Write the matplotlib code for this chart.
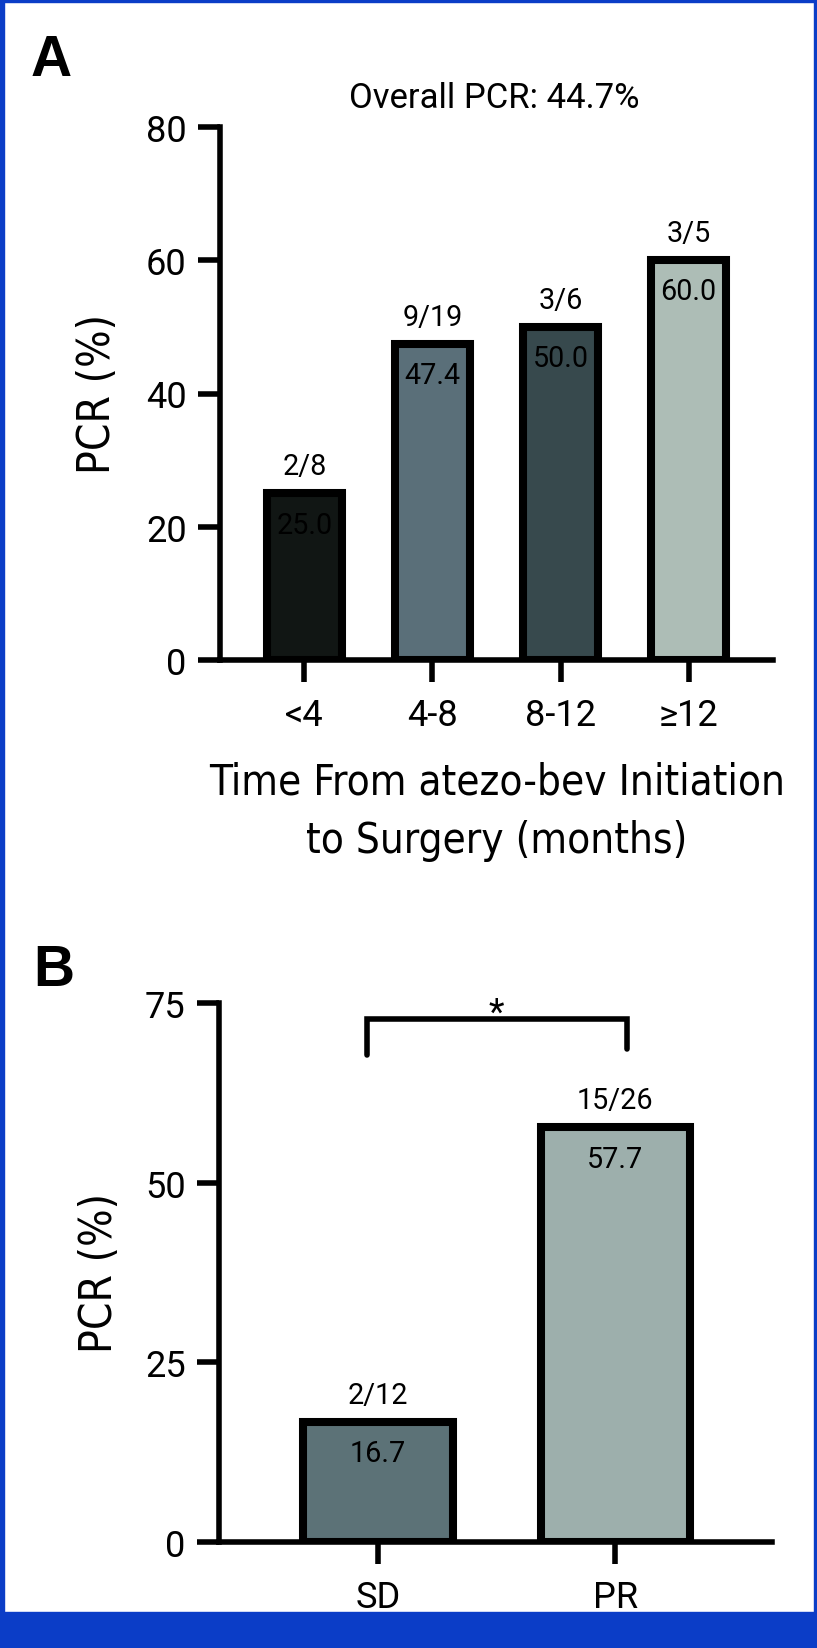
import os
import matplotlib
matplotlib.use('Agg')
import matplotlib.pyplot as plt
import matplotlib.font_manager as fm
from matplotlib.patches import Rectangle
from matplotlib.lines import Line2D

# ---------------- data ----------------
a_categories = ['<4', '4-8', '8-12', '≥12']
a_values = [25.0, 47.4, 50.0, 60.0]
a_counts = ['2/8', '9/19', '3/6', '3/5']
a_colors = ['#111614', '#5A6F79', '#37494D', '#ADBDB6']
a_yticks = [0, 20, 40, 60, 80]
a_title = 'Overall PCR: 44.7%'
a_xlabel_lines = ['Time From atezo-bev Initiation', 'to Surgery (months)']

b_categories = ['SD', 'PR']
b_values = [16.7, 57.7]
b_counts = ['2/12', '15/26']
b_colors = ['#5C7277', '#9DAFAC']
b_yticks = [0, 25, 50, 75]
b_sig_label = '*'

ylabel = 'PCR (%)'

# ---------------- fonts ----------------
REG = ['Roboto', 'Liberation Sans', 'DejaVu Sans']
BOLD = ['Liberation Sans', 'DejaVu Sans']


def find_condensed():
    prefs = ['liberationsansnarrow-regular', 'dejavusanscondensed.',
             'robotocondensed-regular', 'opensans_condensed-regular',
             'opensanscondensed-regular', 'notosans-condensed.',
             'notosanscondensed-regular']
    files = [f.fname for f in fm.fontManager.ttflist]
    for p in prefs:
        for fn in files:
            if os.path.basename(fn).lower().startswith(p):
                return fn
    return None


_cond = find_condensed()
if _cond:
    fm.fontManager.addfont(_cond)
    COND = [fm.FontProperties(fname=_cond).get_name(), 'DejaVu Sans']
    COND_STRETCH = 'condensed' if 'condensed' in _cond.lower() else 'normal'
else:
    COND = ['Liberation Sans', 'DejaVu Sans']
    COND_STRETCH = 'normal'

# ---------------- style ----------------
W, H, DPI = 817, 1649, 100
BLUE = '#0B3DC7'
plt.rcParams['font.family'] = REG

fig = plt.figure(figsize=(W / DPI, H / DPI), dpi=DPI)
renderer = fig.canvas.get_renderer()


def fx(x):
    return x / W


def fy(y):
    return 1 - y / H


def fit_size(s, family, target_w, stretch='normal', start=30):
    t = fig.text(0, 0, s, fontsize=start, family=family, fontstretch=stretch)
    w = t.get_window_extent(renderer).width
    t.remove()
    return start * target_w / w


TICK_FS = fit_size('8-12', REG, 71)
VAL_FS = fit_size('25.0', REG, 56)
TITLE_FS = fit_size(a_title, REG, 290)
XLAB_FS = fit_size(a_xlabel_lines[0], COND, 575, COND_STRETCH)
YLAB_FS = fit_size(ylabel, COND, 160, COND_STRETCH)


def style_axes(ax, tick_pad):
    for s in ('top', 'right'):
        ax.spines[s].set_visible(False)
    for s in ('left', 'bottom'):
        ax.spines[s].set_linewidth(4)
    ax.tick_params(axis='both', direction='out', length=16, width=4,
                   labelsize=TICK_FS, color='black')
    ax.tick_params(axis='x', pad=tick_pad)
    ax.tick_params(axis='y', pad=8)


def draw_bars(ax, cats, vals, counts, colors, width):
    xs = list(range(len(cats)))
    ax.bar(xs, vals, width=width, color=colors, edgecolor='black',
           linewidth=5.8, zorder=2)
    for x, v, c in zip(xs, vals, counts):
        ax.annotate(c, (x, v), xytext=(0, 19.5), textcoords='offset points',
                    ha='center', va='center', fontsize=VAL_FS, family=REG)
        ax.annotate(f'{v:.1f}', (x, v), xytext=(0, -22.5),
                    textcoords='offset points', ha='center', va='center',
                    fontsize=VAL_FS, family=REG, color='black', zorder=3)
    ax.set_xticks(xs)
    ax.set_xticklabels(cats)


# ---------------- panel A ----------------
ax_a = fig.add_axes([fx(220), fy(661), (773 - 220) / W, (661 - 128) / H])
ax_a.set_xlim(-0.66, 3.66)
ax_a.set_ylim(0, 80)
ax_a.set_yticks(a_yticks)
draw_bars(ax_a, a_categories, a_values, a_counts, a_colors, 0.59)
style_axes(ax_a, 11)

fig.text(fx(494), fy(99), a_title, ha='center', va='center',
         fontsize=TITLE_FS, family=REG)
fig.text(fx(497), fy(783), a_xlabel_lines[0], ha='center', va='center',
         fontsize=XLAB_FS, family=COND, fontstretch=COND_STRETCH)
fig.text(fx(497), fy(841), a_xlabel_lines[1], ha='center', va='center',
         fontsize=XLAB_FS, family=COND, fontstretch=COND_STRETCH)
fig.text(fx(97), fy(394), ylabel, ha='center', va='center', rotation=90,
         fontsize=YLAB_FS, family=COND, fontstretch=COND_STRETCH)
fig.text(fx(31), fy(76), 'A', ha='left', va='baseline', fontsize=41,
         fontweight='bold', family=BOLD)

# ---------------- panel B ----------------
ax_b = fig.add_axes([fx(219), fy(1543), (772 - 219) / W, (1543 - 1004) / H])
ax_b.set_xlim(-0.67, 1.66)
ax_b.set_ylim(0, 75)
ax_b.set_yticks(b_yticks)
draw_bars(ax_b, b_categories, b_values, b_counts, b_colors, 0.63)
style_axes(ax_b, 11)

# significance bracket between the two groups
br_left, br_right = -0.047, 1.047
br_top, br_left_end, br_right_end = 72.8, 67.8, 68.6
ax_b.add_line(Line2D([br_left, br_left, br_right, br_right],
                     [br_left_end, br_top, br_top, br_right_end],
                     color='black', lw=4, solid_capstyle='round',
                     solid_joinstyle='miter', clip_on=False))
ax_b.text(0.5, br_top - 0.6, b_sig_label, ha='center', va='baseline',
          fontsize=26, family=REG, clip_on=False)

fig.text(fx(100), fy(1273), ylabel, ha='center', va='center', rotation=90,
         fontsize=YLAB_FS, family=COND, fontstretch=COND_STRETCH)
fig.text(fx(33), fy(986), 'B', ha='left', va='baseline', fontsize=41,
         fontweight='bold', family=BOLD)

# ---------------- blue frame ----------------
for rect in [(0, 0, 1, 36 / H), (0, 0, 4 / W, 1), (1 - 3 / W, 0, 3 / W, 1),
             (0, 1 - 3 / H, 1, 3 / H)]:
    fig.patches.append(Rectangle(rect[:2], rect[2], rect[3],
                                 transform=fig.transFigure, color=BLUE,
                                 zorder=10))

fig.savefig('out.png', dpi=DPI)
